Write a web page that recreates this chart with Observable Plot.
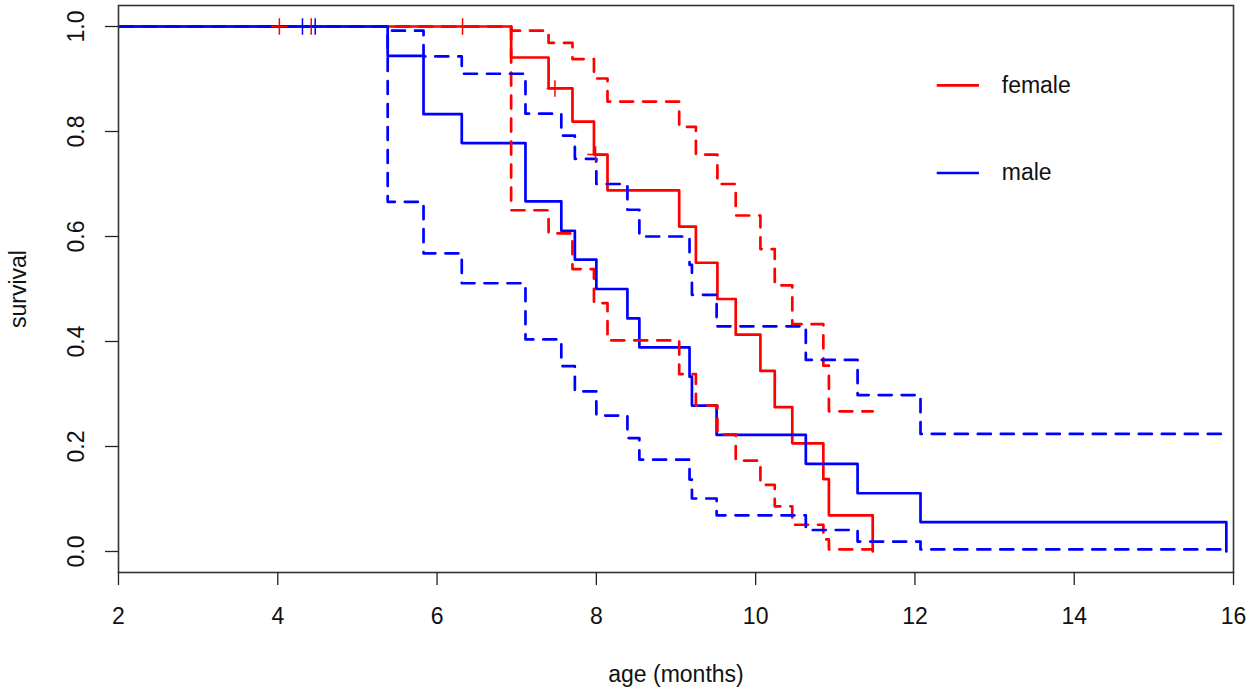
<!DOCTYPE html>
<html>
<head>
<meta charset="utf-8">
<script src="https://cdn.jsdelivr.net/npm/d3@7"></script>
<script src="https://cdn.jsdelivr.net/npm/@observablehq/plot@0.6"></script>
<style>
  html, body { margin: 0; padding: 0; background: #ffffff; }
  #chart svg { display: block; }
</style>
</head>
<body>
<div id="chart"></div>
<script>
const groups = ["female", "male"];
const groupColors = ["red", "blue"];

// female: step times, survival estimate, confidence bounds
const femaleTime  = [0, 6.93, 7.40, 7.70, 7.97, 8.14, 9.04, 9.25, 9.52, 9.75, 10.06, 10.24, 10.46, 10.85, 10.92, 11.47];
const femaleSurv  = [1, 0.941, 0.882, 0.819, 0.756, 0.688, 0.619, 0.550, 0.481, 0.413, 0.344, 0.275, 0.206, 0.138, 0.069, 0];
const femaleUpper = [1, 0.992, 0.969, 0.938, 0.901, 0.857, 0.809, 0.756, 0.700, 0.640, 0.576, 0.507, 0.433, 0.354, 0.267, 0.267];
const femaleLower = [1, 0.650, 0.606, 0.538, 0.473, 0.402, 0.338, 0.278, 0.223, 0.173, 0.127, 0.086, 0.051, 0.023, 0.004, 0.004];
const femaleCensorTime = [4.02, 4.42, 6.32, 7.48, 7.99];
const femaleCensorSurv = [1, 1, 1, 0.882, 0.756];

// male
const maleTime  = [0, 5.38, 5.83, 6.31, 7.11, 7.56, 7.73, 8.00, 8.39, 8.54, 9.17, 9.20, 9.51, 10.63, 11.28, 12.07, 15.91];
const maleSurv  = [1, 0.944, 0.833, 0.778, 0.667, 0.611, 0.556, 0.500, 0.444, 0.389, 0.333, 0.278, 0.222, 0.167, 0.111, 0.056, 0];
const maleUpper = [1, 0.992, 0.943, 0.910, 0.834, 0.792, 0.748, 0.700, 0.651, 0.600, 0.546, 0.489, 0.429, 0.365, 0.298, 0.224, 0.224];
const maleLower = [1, 0.666, 0.568, 0.511, 0.404, 0.353, 0.305, 0.259, 0.216, 0.175, 0.137, 0.101, 0.069, 0.041, 0.019, 0.004, 0.004];
const maleCensorTime = [4.31, 4.47];
const maleCensorSurv = [1, 1];

// axes
const xTicks = [2, 4, 6, 8, 10, 12, 14, 16];
const yTicks = [0, 0.2, 0.4, 0.6, 0.8, 1.0];
const xTitle = "age (months)";
const yTitle = "survival";

// ---- Layout (not data) ----
const legendLayout = { x1: 12.28, x2: 12.81, textX: 13.09, y: [0.888, 0.721] };
const FONT = "'Liberation Sans', Arial, Helvetica, sans-serif";
const FS = 23;

// ---- Build tables ----
const toSteps = (times, vals) => times.map((t, i) => ({ t, s: vals[i] }));
const fSurv = toSteps(femaleTime, femaleSurv);
const fUp = toSteps(femaleTime, femaleUpper);
const fLo = toSteps(femaleTime, femaleLower);
const mSurv = toSteps(maleTime, maleSurv);
const mUp = toSteps(maleTime, maleUpper);
const mLo = toSteps(maleTime, maleLower);
const fCens = toSteps(femaleCensorTime, femaleCensorSurv);
const mCens = toSteps(maleCensorTime, maleCensorSurv);
const legendRows = groups.map((g, i) => ({ g, color: groupColors[i], y: legendLayout.y[i] }));

const dash = "13,10";
const lw = 2.7;

const chart = Plot.plot({
  width: 1250,
  height: 691,
  marginLeft: 118,
  marginRight: 17,
  marginTop: 5,
  marginBottom: 119,
  style: { fontFamily: FONT, fontSize: FS + "px", color: "#111", background: "#fff", overflow: "visible" },
  x: { domain: [2, 16] },
  y: { domain: [-0.04, 1.04] },
  marks: [
    // survival estimates
    Plot.line(fSurv, { x: "t", y: "s", curve: "step-after", stroke: groupColors[0], strokeWidth: lw, clip: true }),
    Plot.line(mSurv, { x: "t", y: "s", curve: "step-after", stroke: groupColors[1], strokeWidth: lw, clip: true }),
    // confidence bounds
    Plot.line(fUp, { x: "t", y: "s", curve: "step-after", stroke: groupColors[0], strokeWidth: lw, strokeDasharray: dash, clip: true }),
    Plot.line(fLo, { x: "t", y: "s", curve: "step-after", stroke: groupColors[0], strokeWidth: lw, strokeDasharray: dash, clip: true }),
    Plot.line(mUp, { x: "t", y: "s", curve: "step-after", stroke: groupColors[1], strokeWidth: lw, strokeDasharray: dash, clip: true }),
    Plot.line(mLo, { x: "t", y: "s", curve: "step-after", stroke: groupColors[1], strokeWidth: lw, strokeDasharray: dash, clip: true }),
    // censoring marks
    Plot.dot(fCens, { x: "t", y: "s", symbol: "plus", r: 5.4, stroke: groupColors[0], strokeWidth: 1.5 }),
    Plot.dot(mCens, { x: "t", y: "s", symbol: "plus", r: 5.4, stroke: groupColors[1], strokeWidth: 1.5 }),
    // legend
    Plot.ruleY(legendRows, { y: "y", x1: () => legendLayout.x1, x2: () => legendLayout.x2, stroke: "color", strokeWidth: lw }),
    Plot.text(legendRows, { x: () => legendLayout.textX, y: "y", text: "g", textAnchor: "start", lineAnchor: "middle", fontSize: FS, fill: "#111" }),
    // frame and axes
    Plot.frame({ stroke: "#333", strokeWidth: 1.6 }),
    Plot.axisX({ ticks: xTicks, tickSize: 13, tickPadding: 22, fontSize: FS, label: null, stroke: "#222", strokeWidth: 1.3 }),
    Plot.axisY({ ticks: yTicks, tickSize: 13, tickFormat: () => "", label: null, stroke: "#222", strokeWidth: 1.3 }),
    Plot.text(yTicks, { y: d => d, text: d => d.toFixed(1), frameAnchor: "left", dx: -42, rotate: -90, textAnchor: "middle", lineAnchor: "middle", fontSize: FS, fill: "#111" }),
    Plot.text([yTitle], { y: () => 0.5, text: d => d, frameAnchor: "left", dx: -100, rotate: -90, textAnchor: "middle", lineAnchor: "middle", fontSize: FS, fill: "#111" }),
    Plot.text([xTitle], { x: () => 9, text: d => d, frameAnchor: "bottom", dy: 102, textAnchor: "middle", lineAnchor: "middle", fontSize: FS, fill: "#111" })
  ]
});

document.getElementById("chart").appendChild(chart);
</script>
</body>
</html>
